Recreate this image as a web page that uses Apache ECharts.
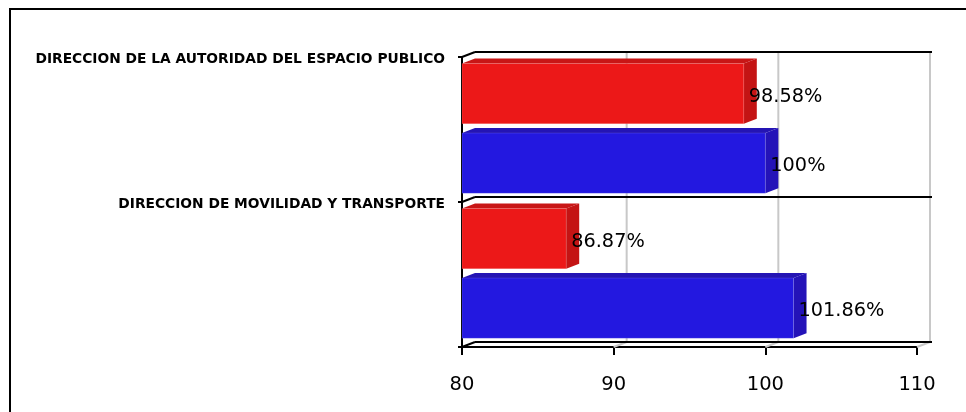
<!DOCTYPE html>
<html>
<head>
<meta charset="utf-8">
<script src="https://cdn.jsdelivr.net/npm/echarts@6/dist/echarts.min.js"></script>
<style>html,body{margin:0;padding:0;background:#fff;}#c{width:966px;height:412px;}</style>
</head>
<body>
<div id="c"></div>
<script>
const categories = ['DIRECCION DE LA AUTORIDAD DEL ESPACIO PUBLICO', 'DIRECCION DE MOVILIDAD Y TRANSPORTE'];
const redValues = [98.58, 86.87];
const blueValues = [100, 101.86];
const xTicks = [80, 90, 100, 110];

const X_MIN = 80, X_MAX = 110;
const DX = 13, DY = -5;

const chart = echarts.init(document.getElementById('c'));

function barRender(offset, front, side, top) {
  return function (params, api) {
    const idx = api.value(1);
    const val = api.value(0);
    const end = api.coord([val, idx]);
    const base = api.coord([X_MIN, idx]);
    const band = api.size([0, 1])[1];
    const h = band * 0.415;
    const cy = end[1] + offset * band;
    const y0 = cy - h / 2;
    const x0 = base[0], x1 = end[0];
    return {
      type: 'group',
      children: [
        { type: 'polygon', shape: { points: [[x0, y0], [x0 + DX, y0 + DY], [x1 + DX, y0 + DY], [x1, y0]] }, style: { fill: top } },
        { type: 'polygon', shape: { points: [[x1, y0], [x1 + DX, y0 + DY], [x1 + DX, y0 + h + DY], [x1, y0 + h]] }, style: { fill: side } },
        { type: 'rect', shape: { x: x0, y: y0, width: x1 - x0, height: h }, style: { fill: front, stroke: 'rgba(255,255,255,0.12)', lineWidth: 1 } },
        { type: 'text', style: { text: String(val) + '%', x: x1 + 5, y: cy + 3, verticalAlign: 'middle', align: 'left', font: '19.3px "DejaVu Sans"', fill: '#000' } }
      ]
    };
  };
}

function frameRender(params, api) {
  const band = api.size([0, 1])[1];
  const c0 = api.coord([X_MIN, 0]);
  const n = categories.length;
  const children = [];
  const grey = '#c8c8c8';
  const topY = c0[1] - band / 2;
  const botY = topY + band * n;
  xTicks.forEach(function (t, i) {
    const x = api.coord([t, 0])[0];
    if (i > 0) {
      children.push({ type: 'line', shape: { x1: x + DX, y1: topY + DY, x2: x + DX, y2: botY + DY }, style: { stroke: grey, lineWidth: 2 } });
      children.push({ type: 'line', shape: { x1: x, y1: botY, x2: x + DX, y2: botY + DY }, style: { stroke: grey, lineWidth: 2 } });
    }
  });
  const xl = api.coord([X_MIN, 0])[0];
  const xr = api.coord([X_MAX, 0])[0];
  for (let k = 0; k <= n; k++) {
    const y = topY + band * k;
    children.push({ type: 'line', shape: { x1: xl + DX, y1: y + DY, x2: xr + DX + 2, y2: y + DY }, style: { stroke: '#000', lineWidth: 2 } });
    children.push({ type: 'line', shape: { x1: xl, y1: y, x2: xl + DX, y2: y + DY }, style: { stroke: '#000', lineWidth: 2 } });
  }
  return { type: 'group', children: children };
}

const option = {
  animation: false,
  backgroundColor: '#fff',
  graphic: [
    { type: 'rect', shape: { x: 10, y: 9, width: 1000, height: 500 }, style: { fill: 'none', stroke: '#000', lineWidth: 2 }, z: 100 }
  ],
  grid: { left: 462, right: 49, top: 57, bottom: 65, containLabel: false },
  xAxis: {
    type: 'value', min: X_MIN, max: X_MAX, interval: 10,
    axisLine: { show: true, lineStyle: { color: '#000', width: 2 } },
    axisTick: { show: true, length: 8, lineStyle: { color: '#000', width: 2 } },
    axisLabel: { fontSize: 19.5, fontFamily: 'DejaVu Sans', color: '#000', margin: 28 },
    splitLine: { show: false }
  },
  yAxis: {
    type: 'category', inverse: true, data: categories,
    axisLine: { show: true, lineStyle: { color: '#000', width: 2 } },
    axisTick: { show: true, length: 4, lineStyle: { color: '#000', width: 2 } },
    axisLabel: {
      margin: 17, color: '#000',
      formatter: function (v) { return '{a|' + v + '}'; },
      rich: { a: { fontSize: 13.8, fontWeight: 'bold', fontFamily: 'DejaVu Sans', color: '#000', padding: [0, 0, 141, 0] } }
    },
    splitLine: { show: false }
  },
  series: [
    { type: 'custom', renderItem: frameRender, data: [[X_MIN, 0]], z: 1, silent: true },
    { type: 'custom', renderItem: barRender(-0.248, '#ec1818', '#c41414', '#c81616'), data: redValues.map(function (v, i) { return [v, i]; }), z: 3 },
    { type: 'custom', renderItem: barRender(0.232, '#2318e0', '#2413b8', '#2414b4'), data: blueValues.map(function (v, i) { return [v, i]; }), z: 3 }
  ]
};
chart.setOption(option);
</script>
</body>
</html>
